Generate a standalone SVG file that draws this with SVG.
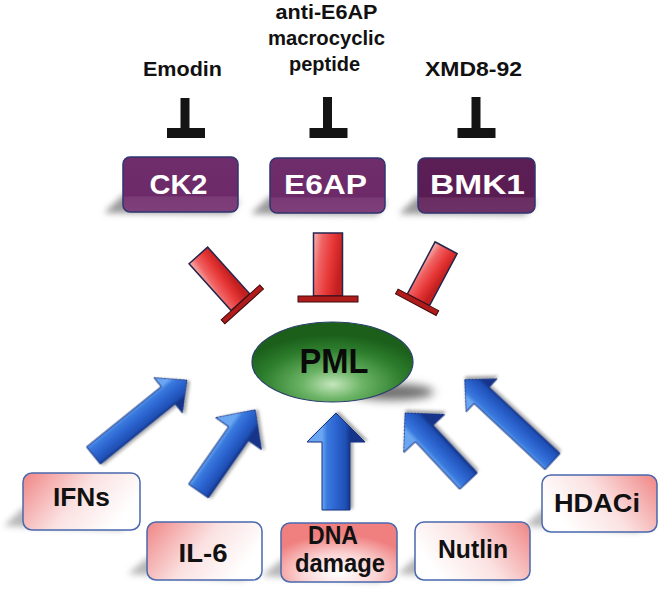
<svg xmlns="http://www.w3.org/2000/svg" width="661" height="589" viewBox="0 0 661 589">
<style>
text{font-family:"Liberation Sans",Arial,sans-serif;font-weight:bold;text-anchor:middle}
.lbl{font-size:21px;fill:#111}
.boxt{font-size:27px;fill:#fff}
.bt{font-size:26px;fill:#111}
.pbox{stroke:#2f356f;stroke-width:1.5}
.bbox{stroke:#4a68ae;stroke-width:1.5}
.blk{fill:#141414}
.arrow{stroke:#173380;stroke-width:1;stroke-linejoin:round;filter:url(#ash)}
.stem{fill:url(#redg);stroke:#26264d;stroke-width:1.5}
.bar{fill:#b01c1c;stroke:#3e0a0a;stroke-width:1}
.shd{fill:#9a9a9a;filter:url(#blur3)}
</style>
<defs>
<filter id="blur3" x="-30%" y="-60%" width="160%" height="220%"><feGaussianBlur stdDeviation="3"/></filter>
<filter id="blur5" x="-50%" y="-100%" width="200%" height="300%"><feGaussianBlur stdDeviation="5"/></filter>
<filter id="ash" x="-20%" y="-40%" width="140%" height="180%"><feDropShadow dx="1.5" dy="2.5" stdDeviation="1.8" flood-color="#000" flood-opacity="0.35"/></filter>
<linearGradient id="bluegA" gradientUnits="userSpaceOnUse" x1="0" y1="-12" x2="0" y2="12">
<stop offset="0" stop-color="#6aa6f2"/><stop offset="0.18" stop-color="#3a7ade"/><stop offset="0.5" stop-color="#2c64cf"/><stop offset="0.85" stop-color="#1f4fb4"/><stop offset="1" stop-color="#15358a"/>
</linearGradient>
<linearGradient id="bluegB" gradientUnits="userSpaceOnUse" x1="0" y1="-14" x2="0" y2="14">
<stop offset="0" stop-color="#6aa6f2"/><stop offset="0.18" stop-color="#3a7ade"/><stop offset="0.5" stop-color="#2c64cf"/><stop offset="0.85" stop-color="#1f4fb4"/><stop offset="1" stop-color="#15358a"/>
</linearGradient>
<linearGradient id="redg" gradientUnits="objectBoundingBox" x1="0" y1="0" x2="1" y2="0.3">
<stop offset="0" stop-color="#f7b4b4"/><stop offset="0.3" stop-color="#f06464"/><stop offset="0.65" stop-color="#e83838"/><stop offset="1" stop-color="#c41f1f"/>
</linearGradient>
<linearGradient id="purg" x1="0" y1="0" x2="0" y2="1">
<stop offset="0" stop-color="#6f2d6c"/><stop offset="0.7" stop-color="#6c2a69"/><stop offset="0.73" stop-color="#7a3a76"/><stop offset="1" stop-color="#7e407a"/>
</linearGradient>
<linearGradient id="purg2" x1="0" y1="0" x2="0" y2="1">
<stop offset="0" stop-color="#5c1f55"/><stop offset="0.7" stop-color="#5a1d53"/><stop offset="0.73" stop-color="#6a2e63"/><stop offset="1" stop-color="#6c3166"/>
</linearGradient>
<radialGradient id="greeng" cx="0.5" cy="0.78" r="0.62">
<stop offset="0" stop-color="#c4e6bc"/><stop offset="0.3" stop-color="#6cb466"/><stop offset="0.7" stop-color="#2e7f2e"/><stop offset="1" stop-color="#1b5f1b"/>
</radialGradient>
<linearGradient id="pinkL" x1="0" y1="0" x2="1" y2="0.4">
<stop offset="0" stop-color="#f08585"/><stop offset="0.55" stop-color="#fbe1e1"/><stop offset="1" stop-color="#ffffff"/>
</linearGradient>
<linearGradient id="pinkR" x1="1" y1="0" x2="0" y2="0.4">
<stop offset="0" stop-color="#f08585"/><stop offset="0.55" stop-color="#fbe1e1"/><stop offset="1" stop-color="#ffffff"/>
</linearGradient>
<radialGradient id="pinkC" cx="0.5" cy="0.85" r="0.65">
<stop offset="0" stop-color="#ffffff"/><stop offset="0.5" stop-color="#fbd4d4"/><stop offset="1" stop-color="#f08080"/>
</radialGradient>
</defs>

<!-- connectors -->
<g id="connectors">
  <!-- black inhibition T-bars -->
  <g id="t-emodin"><rect class="blk" x="180.5" y="98" width="9" height="32"/><rect class="blk" x="167" y="128" width="38" height="10"/></g>
  <g id="t-macro"><rect class="blk" x="323" y="97" width="9" height="33"/><rect class="blk" x="309.5" y="128" width="38" height="10"/></g>
  <g id="t-xmd"><rect class="blk" x="471.5" y="97" width="9" height="33"/><rect class="blk" x="457.5" y="128" width="38" height="10"/></g>
  <!-- red inhibition T-bars towards PML -->
  <g id="t-ck2" transform="translate(242.5,304.5) rotate(-42)"><rect class="stem" x="-12.5" y="-66" width="25" height="63"/><rect class="bar" x="-26" y="-3" width="52" height="5.5"/></g>
  <g id="t-e6ap" transform="translate(328,299)"><rect class="stem" x="-14.5" y="-66" width="29" height="63"/><rect class="bar" x="-30" y="-3" width="60" height="6"/></g>
  <g id="t-bmk1" transform="translate(417,302.5) rotate(28)"><rect class="stem" x="-12.5" y="-62" width="25" height="59"/><rect class="bar" x="-23" y="-3" width="46" height="5.5"/></g>
  <!-- blue activation arrows -->
  <path id="a-ifns" class="arrow" fill="url(#bluegA)" transform="translate(93.5,455.5) rotate(-38.9)" d="M0,-11 L96,-11 L96,-22.5 L120,0 L96,22.5 L96,11 L0,11Z"/>
  <path id="a-il6" class="arrow" fill="url(#bluegA)" transform="translate(198.5,491) rotate(-55.1)" d="M0,-12 L70,-12 L70,-28 L99,0 L70,28 L70,12 L0,12Z"/>
  <path id="a-dna" class="arrow" fill="url(#bluegB)" transform="translate(336,510) rotate(-90)" d="M0,-14 L68,-14 L68,-29 L97,0 L68,29 L68,14 L0,14Z"/>
  <path id="a-nutlin" class="arrow" fill="url(#bluegA)" transform="translate(468.5,481) rotate(-133)" d="M0,-12 L65,-12 L65,-28 L93,0 L65,28 L65,12 L0,12Z"/>
  <path id="a-hdaci" class="arrow" fill="url(#bluegA)" transform="translate(552.5,461.5) rotate(-137)" d="M0,-11 L97,-11 L97,-22.5 L120,0 L97,22.5 L97,11 L0,11Z"/>
</g>

<!-- inhibitor labels -->
<g id="emodin"><text class="lbl" x="182.5" y="76" textLength="79" lengthAdjust="spacingAndGlyphs">Emodin</text></g>
<g id="macrocyclic">
  <text class="lbl" x="326.5" y="18.5" textLength="102" lengthAdjust="spacingAndGlyphs">anti-E6AP</text>
  <text class="lbl" x="326.5" y="44.5" textLength="117" lengthAdjust="spacingAndGlyphs">macrocyclic</text>
  <text class="lbl" x="324.5" y="71" textLength="71" lengthAdjust="spacingAndGlyphs">peptide</text>
</g>
<g id="xmd8-92"><text class="lbl" x="473.5" y="76" textLength="97" lengthAdjust="spacingAndGlyphs">XMD8-92</text></g>

<!-- purple kinase/ligase boxes -->
<g id="ck2">
  <polygon class="shd" points="123,195 104,213 230,214 240,200"/>
  <rect class="pbox" x="123" y="157" width="115" height="55" rx="7" fill="url(#purg)"/>
  <text class="boxt" x="178.5" y="194" textLength="58" lengthAdjust="spacingAndGlyphs">CK2</text>
</g>
<g id="e6ap">
  <polygon class="shd" points="270,196 251,214 377,215 387,201"/>
  <rect class="pbox" x="270" y="158" width="115" height="55" rx="7" fill="url(#purg)"/>
  <text class="boxt" x="325.5" y="194" textLength="83" lengthAdjust="spacingAndGlyphs">E6AP</text>
</g>
<g id="bmk1">
  <polygon class="shd" points="418,196 399,214 525,215 537,201"/>
  <rect class="pbox" x="418" y="158" width="117" height="55" rx="7" fill="url(#purg2)"/>
  <text class="boxt" x="477.5" y="194" textLength="95" lengthAdjust="spacingAndGlyphs">BMK1</text>
</g>

<!-- PML -->
<g id="pml">
  <ellipse cx="392" cy="392" rx="42" ry="8" fill="#6e6e6e" filter="url(#blur5)"/>
  <ellipse cx="332.5" cy="362" rx="80.5" ry="40" fill="url(#greeng)" stroke="#2a3f6a" stroke-width="1.2"/>
  <text x="334" y="373" font-size="35" fill="#0a0a0a" textLength="69" lengthAdjust="spacingAndGlyphs">PML</text>
</g>

<!-- activators -->
<g id="ifns">
  <polygon class="shd" points="23,508 4,526 120,530 140,522" opacity="0.7"/>
  <rect class="bbox" x="23" y="473" width="117" height="57" rx="9" fill="url(#pinkL)"/>
  <text class="bt" x="81.5" y="506" textLength="57" lengthAdjust="spacingAndGlyphs">IFNs</text>
</g>
<g id="il-6">
  <polygon class="shd" points="147,558 128,574 242,580 262,572" opacity="0.7"/>
  <rect class="bbox" x="147" y="522" width="115" height="58" rx="9" fill="url(#pinkL)"/>
  <text class="bt" x="203" y="562" textLength="49" lengthAdjust="spacingAndGlyphs">IL-6</text>
</g>
<g id="dna-damage">
  <polygon class="shd" points="281,560 262,576 377,582 397,574" opacity="0.7"/>
  <rect class="bbox" x="281" y="523" width="116" height="59" rx="9" fill="url(#pinkC)"/>
  <text class="bt" x="333" y="543.5" font-size="23" textLength="50" lengthAdjust="spacingAndGlyphs">DNA</text>
  <text class="bt" x="340" y="571.5" font-size="23" textLength="90" lengthAdjust="spacingAndGlyphs">damage</text>
</g>
<g id="nutlin">
  <polygon class="shd" points="415,558 398,574 510,580 530,572" opacity="0.7"/>
  <rect class="bbox" x="415" y="522" width="115" height="58" rx="9" fill="url(#pinkR)"/>
  <text class="bt" x="473" y="558" textLength="70" lengthAdjust="spacingAndGlyphs">Nutlin</text>
</g>
<g id="hdaci">
  <polygon class="shd" points="542,510 525,526 637,532 657,524" opacity="0.7"/>
  <rect class="bbox" x="542" y="475" width="115" height="57" rx="9" fill="url(#pinkR)"/>
  <text class="bt" x="597" y="512" textLength="86" lengthAdjust="spacingAndGlyphs">HDACi</text>
</g>
</svg>
